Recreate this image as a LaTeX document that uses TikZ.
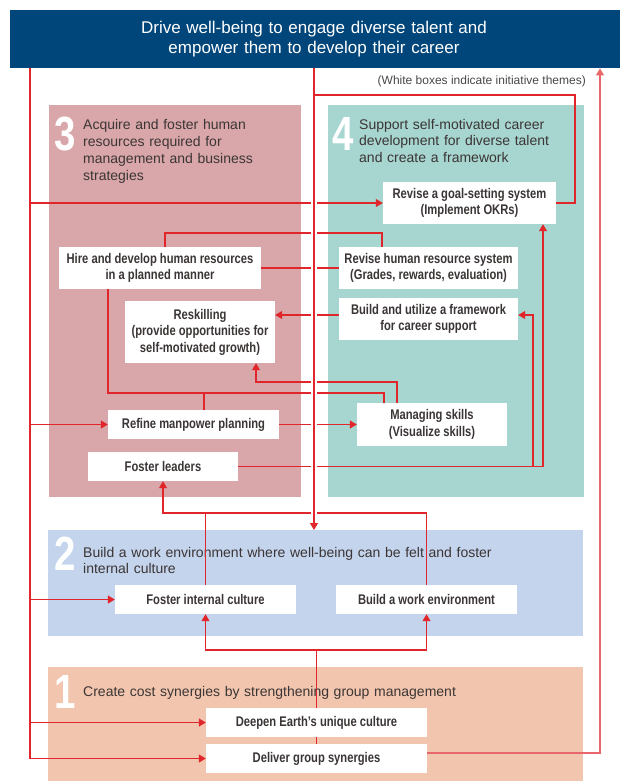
\documentclass[tikz,border=0pt]{standalone}
\usepackage{fontspec}
\setmainfont{Liberation Sans}
\newfontfamily\condbold[FakeStretch=0.8]{Liberation Sans Bold}
\newfontfamily\numfont[FakeStretch=0.8]{Liberation Sans Bold}
\usetikzlibrary{arrows.meta}

\definecolor{hdr}{HTML}{00467A}
\definecolor{pink3}{HTML}{D9A7AA}
\definecolor{teal4}{HTML}{A7D5D0}
\definecolor{blue2}{HTML}{C3D4EC}
\definecolor{peach1}{HTML}{F2C6AE}
\definecolor{lred}{HTML}{E0262A}
\definecolor{lred2}{HTML}{E8676A}
\definecolor{ink}{HTML}{3B3535}
\definecolor{note}{HTML}{4A4646}

\pgfdeclarelayer{sections}
\pgfdeclarelayer{under}
\pgfsetlayers{sections,under,main}

\begin{document}
\begin{tikzpicture}[x=1pt,y=-1pt,
  secbox/.style={fill=#1, draw=none, inner sep=0, anchor=north west},
  wbox/.style={fill=white, draw=none, inner sep=0, align=center, text=ink,
    font=\condbold\fontsize{14}{16.5}\selectfont},
  ln/.style={draw=lred, line width=1.2pt},
  lnsoft/.style={draw=lred2, line width=1.2pt},
  arr/.style={-{Triangle[length=7pt,width=8pt]}},
  title/.style={anchor=base west, inner sep=0, align=left, text=ink},
  numeral/.style={anchor=base west, inner sep=0, text=white,
    font=\numfont\fontsize{48}{48}\selectfont}]
\useasboundingbox (0,0) rectangle (620,781);

% ---------- header ----------
\node[fill=hdr, minimum width=610, minimum height=58, anchor=north west, inner sep=0] (head) at (10,10) {};
\node[anchor=base, text width=450, align=center, inner sep=0, text=white,
  font=\fontsize{17}{20}\selectfont] (headtxt) at (314,34)
  {Drive well-being to engage diverse talent and\\empower them to develop their career};
\node[anchor=base east, inner sep=0, text=note, font=\fontsize{12}{14}\selectfont] (legend) at (586,85)
  {(White boxes indicate initiative themes)};

% ---------- theme areas ----------
\begin{pgfonlayer}{sections}
\node[secbox=pink3, minimum width=252, minimum height=392] (sec3) at (49,105) {};
\node[secbox=teal4, minimum width=256, minimum height=392] (sec4) at (328,105) {};
\node[secbox=blue2, minimum width=535, minimum height=106] (sec2) at (48,530) {};
\node[secbox=peach1, minimum width=535, minimum height=114] (sec1) at (48,667) {};
\end{pgfonlayer}

\node[numeral] (n3) at (54,150) {3};
\node[numeral] (n4) at (332,150) {4};
\node[numeral] (n2) at (54,570) {2};
\node[numeral] (n1) at (54,708) {1};

\node[title, text width=210, font=\fontsize{14}{17.2}\selectfont] (t3) at (83,129)
  {Acquire and foster human\\resources required for\\management and business\\strategies};
\node[title, text width=220, font=\fontsize{14}{16.6}\selectfont] (t4) at (359,129)
  {Support self-motivated career\\development for diverse talent\\and create a framework};
\node[title, text width=480, font=\fontsize{14}{16.5}\selectfont] (t2) at (83,557)
  {Build a work environment where well-being can be felt and foster\\internal culture};
\node[title, text width=480, font=\fontsize{14}{16.5}\selectfont] (t1) at (83,696)
  {Create cost synergies by strengthening group management};

% ---------- initiative themes ----------
\node[wbox, minimum width=173, minimum height=42] (goal) at (469.5,203) {Revise a goal-setting system\\(Implement OKRs)};
\node[wbox, minimum width=202, minimum height=42] (hire) at (160,268) {Hire and develop human resources\\in a planned manner};
\node[wbox, minimum width=179, minimum height=42] (hrsys) at (428.5,268) {Revise human resource system\\(Grades, rewards, evaluation)};
\node[wbox, minimum width=150, minimum height=62] (reskill) at (200,332) {Reskilling\\(provide opportunities for\\self-motivated growth)};
\node[wbox, minimum width=179, minimum height=42] (frame) at (428.5,319) {Build and utilize a framework\\for career support};
\node[wbox, minimum width=171, minimum height=29] (refine) at (193.5,424.5) {Refine manpower planning};
\node[wbox, minimum width=150, minimum height=43] (manage) at (432,424.5) {Managing skills\\(Visualize skills)};
\node[wbox, minimum width=150, minimum height=29] (fl) at (163,466.5) {Foster leaders};
\node[wbox, minimum width=181, minimum height=29] (fic) at (205.5,599.5) {Foster internal culture};
\node[wbox, minimum width=181, minimum height=29] (bwe) at (426.5,599.5) {Build a work environment};
\node[wbox, minimum width=221, minimum height=29] (deepen) at (316.5,722.5) {Deepen Earth’s unique culture};
\node[wbox, minimum width=221, minimum height=29] (deliver) at (316.5,758.5) {Deliver group synergies};

% ---------- routing guides ----------
\coordinate (xL) at (30,0);   \coordinate (xM) at (314,0);  \coordinate (xR) at (600,0);
\coordinate (xG) at (575,0);  \coordinate (xH) at (165,0);  \coordinate (xS) at (382,0);
\coordinate (xHb) at (108,0); \coordinate (xRf) at (204,0); \coordinate (xMa) at (384,0);
\coordinate (xMb) at (397,0); \coordinate (xRk) at (256,0); \coordinate (xF1) at (543,0);
\coordinate (xF2) at (533,0);
\coordinate (y95) at (0,95);   \coordinate (y233) at (0,233); \coordinate (y315) at (0,315);
\coordinate (y382) at (0,382); \coordinate (y393) at (0,393); \coordinate (y513) at (0,513);
\coordinate (y650) at (0,650); \coordinate (y753) at (0,753);

% ---------- connectors ----------
% link running behind the boxes of theme 1
\begin{pgfonlayer}{under}
\draw[ln] (deliver.north) -- (deliver.north |- y650);
\end{pgfonlayer}
\draw[ln,arr] (deliver.north |- y650) -| (fic.south);
\draw[ln,arr] (deliver.north |- y650) -| (bwe.south);

% left trunk from the header
\draw[ln,arr] (head.south -| xL) |- (deliver.west);
\foreach \t in {goal,refine,fic,deepen}
  \draw[ln,arr] (\t.west -| xL) -- (\t.west);

% return to the header
\draw[lnsoft,arr] (deliver.east |- y753) -| (head.south -| xR);

% theme 3 / theme 4 links
\draw[ln] (hire.north -| xH) -- (xH |- y233) -| (hrsys.north -| xS);
\draw[ln] (hire.east) -- (hrsys.west);
\draw[ln,arr] (frame.west |- y315) -- (reskill.east |- y315);
\draw[ln,arr] (manage.north -| xMb) -- (xMb |- y382) -| (reskill.south -| xRk);
\draw[ln] (hire.south -| xHb) |- (xMa |- y393) -- (manage.north -| xMa);
\draw[ln] (refine.north -| xRf) -- (xRf |- y393);
\draw[ln,arr] (refine.east) -- (manage.west);
\draw[ln,arr] (fl.east) -| (goal.south -| xF1);
\draw[ln,arr] (fl.east -| xF2) |- (frame.east |- y315);

% theme 2 up to theme 3
\draw[ln,arr] (bwe.north) |- (fl.south |- y513) -- (fl.south);
\draw[ln] (fic.north) -- (fic.north |- y513);

% central trunk, passing over the crossings with a gap
\draw[white, line width=6pt] (head.south -| xM) -- ([yshift=2pt]sec2.north -| xM);
\draw[ln,arr] (head.south -| xM) -- (sec2.north -| xM);
\draw[ln] (xM |- y95) -| (xG |- goal.east) -- (goal.east);
\end{tikzpicture}
\end{document}
